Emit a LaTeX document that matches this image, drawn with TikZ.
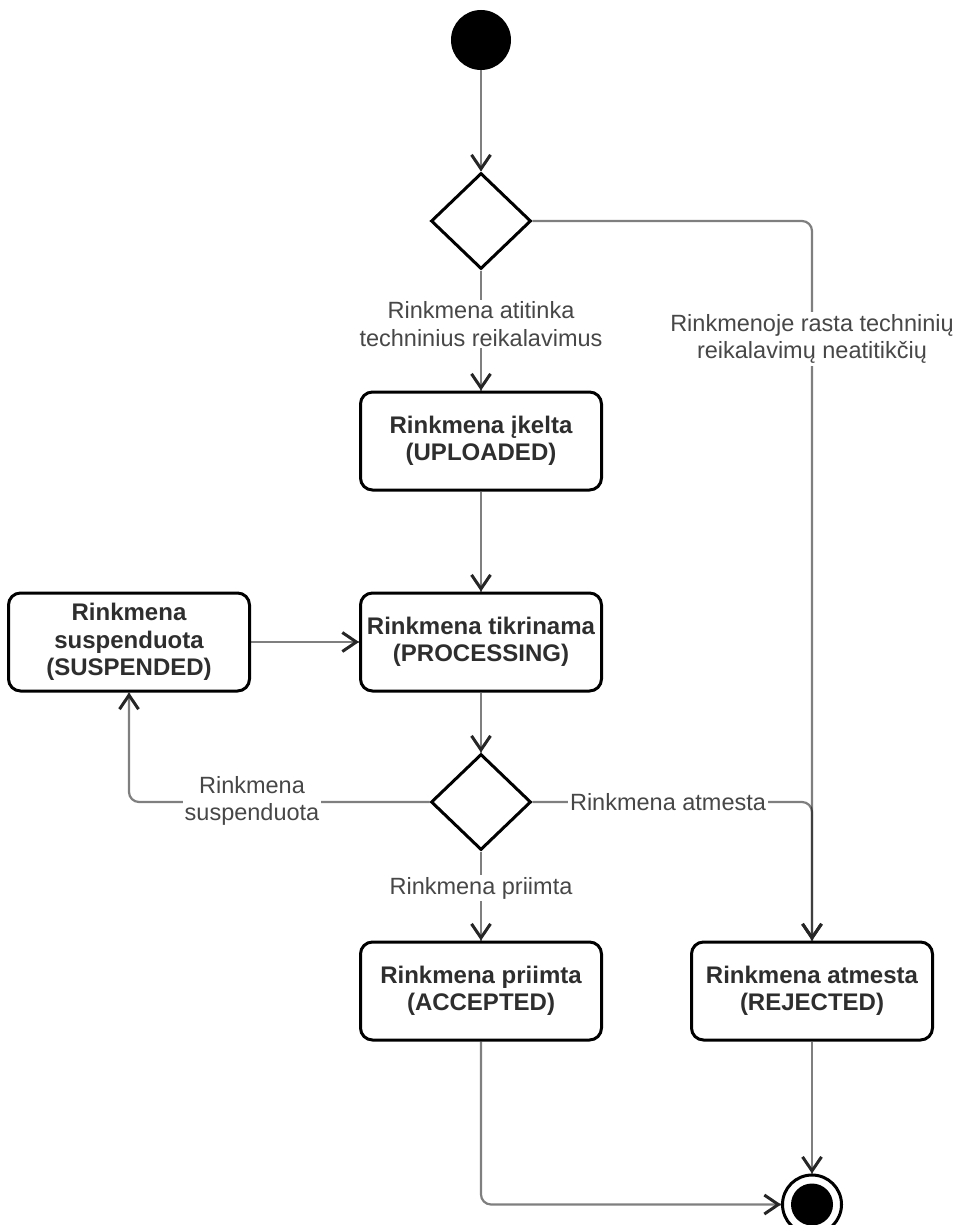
\documentclass[tikz,border=0pt]{standalone}
\usepackage{fontspec}
\setmainfont{Liberation Sans}
\usetikzlibrary{shapes.geometric,arrows.meta,decorations.markings}
\begin{document}
\begin{tikzpicture}[x=1pt,y=-1pt,
  state/.style={draw=black, line width=3pt, rounded corners=12pt, minimum width=241pt, minimum height=98pt, fill=white, align=center, font=\fontsize{24}{27.5}\selectfont\bfseries, text=black!82, inner sep=0pt},
  choice/.style={diamond, draw=black, line width=3pt, minimum width=100pt, minimum height=96pt, inner sep=0pt, fill=white},
  startst/.style={circle, fill=black, minimum size=60pt, inner sep=0pt},
  endst/.style={circle, draw=black, line width=3pt, minimum size=59pt, inner sep=0pt, fill=white, path picture={\fill[black] (path picture bounding box.center) circle (21pt);}},
  edge/.style={draw=black, draw opacity=0.5, line width=2.2pt, rounded corners=10pt, postaction={decorate}, decoration={markings, mark=at position 1 with {\pgfsetstrokeopacity{1}\arrow[draw opacity=1, black!85]{Straight Barb[length=14pt,width=19pt,line width=3pt]}}}},
  lbl/.style={fill=white, align=center, font=\fontsize{23.5}{27.5}\selectfont, text=black!72, inner sep=2pt},
]
\useasboundingbox (0,0) rectangle (958,1225);

\node[startst] (start) at (481,40) {};
\node[choice] (d1) at (481,221) {};
\node[state] (up) at (481,441) {Rinkmena įkelta\\(UPLOADED)};
\node[state] (proc) at (481,642) {Rinkmena tikrinama\\(PROCESSING)};
\node[state] (susp) at (129,642) {Rinkmena\\suspenduota\\(SUSPENDED)};
\node[choice] (d2) at (481,802) {};
\node[state] (acc) at (481,991) {Rinkmena priimta\\(ACCEPTED)};
\node[state] (rej) at (812,991) {Rinkmena atmesta\\(REJECTED)};
\node[endst] (end) at (812,1204.5) {};

\draw[edge] (start) -- (d1);
\draw[edge] (d1) -- (up);
\draw[edge] (d1.east) -| (rej.north);
\draw[edge] (up) -- (proc);
\draw[edge] (susp) -- (proc);
\draw[edge] (proc) -- (d2);
\draw[edge] (d2.west) -| (susp.south);
\draw[edge] (d2.east) -| (rej.north);
\draw[edge] (d2) -- (acc);
\draw[edge] (acc.south) |- (end.west);
\draw[edge] (rej) -- (end);

\node[lbl] (l1) at (481,324) {Rinkmena atitinka\\techninius reikalavimus};
\node[lbl] (l2) at (812,339) {Rinkmenoje rasta techninių\\reikalavimų neatitikčių};
\node[lbl] (l3) at (252,801) {Rinkmena\\suspenduota};
\node[lbl] (l4) at (668,802) {Rinkmena atmesta};
\node[lbl] (l5) at (481,888) {Rinkmena priimta};
\end{tikzpicture}
\end{document}
